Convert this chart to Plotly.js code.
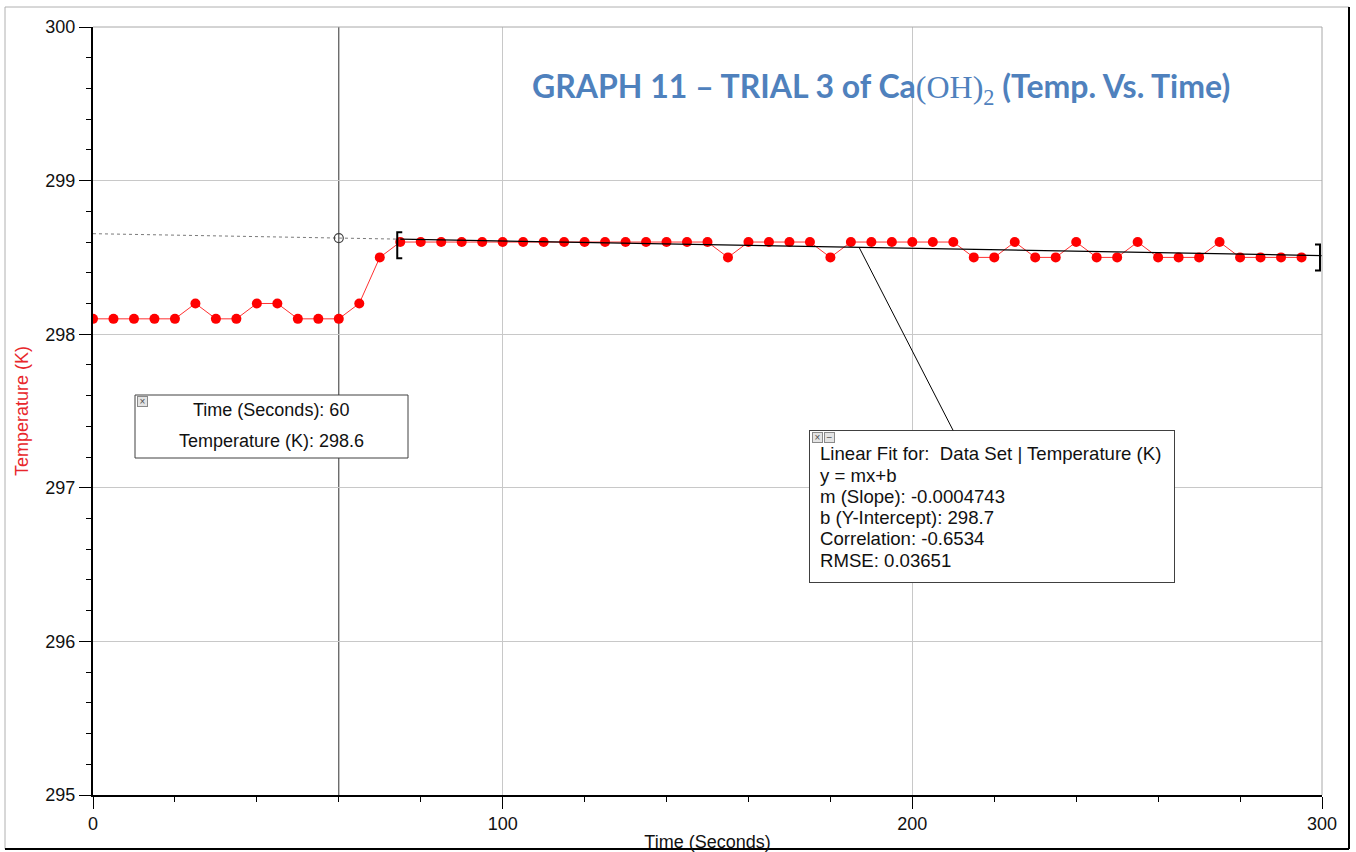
<!DOCTYPE html>
<html>
<head>
<meta charset="utf-8">
<script src="https://cdn.plot.ly/plotly-3.0.1.min.js"></script>
<style>
  html, body { margin: 0; padding: 0; background: #ffffff; }
  #chart { width: 1356px; height: 852px; }
</style>
</head>
<body>
<div id="chart"></div>
<script>
// Logger run: temperature of the Ca(OH)2 solution sampled every 5 s
const timeSec = [0, 5, 10, 15, 20, 25, 30, 35, 40, 45, 50, 55, 60, 65, 70,
  75, 80, 85, 90, 95, 100, 105, 110, 115, 120, 125, 130, 135, 140, 145,
  150, 155, 160, 165, 170, 175, 180, 185, 190, 195, 200, 205, 210, 215, 220,
  225, 230, 235, 240, 245, 250, 255, 260, 265, 270, 275, 280, 285, 290, 295];
const tempK = [298.1, 298.1, 298.1, 298.1, 298.1, 298.2, 298.1, 298.1, 298.2, 298.2, 298.1, 298.1, 298.1, 298.2, 298.5,
  298.6, 298.6, 298.6, 298.6, 298.6, 298.6, 298.6, 298.6, 298.6, 298.6, 298.6, 298.6, 298.6, 298.6, 298.6,
  298.6, 298.5, 298.6, 298.6, 298.6, 298.6, 298.5, 298.6, 298.6, 298.6, 298.6, 298.6, 298.6, 298.5, 298.5,
  298.6, 298.5, 298.5, 298.6, 298.5, 298.5, 298.6, 298.5, 298.5, 298.5, 298.6, 298.5, 298.5, 298.5, 298.5];

// Range selected for the linear fit, and the examine-cursor time
const fitRange = [75, 300];
const cursorTime = 60;

// Axis ticks
const xTicks = [0, 100, 200, 300];
const yTicks = [295, 296, 297, 298, 299, 300];

// Least-squares fit over the selected range
function linearFit(xs, ys, lo, hi) {
  const px = [], py = [];
  xs.forEach((x, i) => { if (x >= lo && x <= hi) { px.push(x); py.push(ys[i]); } });
  const n = px.length;
  const mx = px.reduce((a, b) => a + b, 0) / n;
  const my = py.reduce((a, b) => a + b, 0) / n;
  let sxx = 0, sxy = 0, syy = 0;
  for (let i = 0; i < n; i++) {
    sxx += (px[i] - mx) ** 2;
    sxy += (px[i] - mx) * (py[i] - my);
    syy += (py[i] - my) ** 2;
  }
  const m = sxy / sxx;
  const b = my - m * mx;
  const r = sxy / Math.sqrt(sxx * syy);
  const rmse = Math.sqrt((syy - sxy * sxy / sxx) / (n - 2));
  return { m, b, r, rmse };
}
const fit = linearFit(timeSec, tempK, fitRange[0], fitRange[1]);
const fitAt = x => fit.m * x + fit.b;

// Page geometry (pixels) and helpers to place overlays in paper units
const W = 1356, H = 852;
const M = { l: 93, r: 34, t: 27, b: 57 };
const PW = W - M.l - M.r, PH = H - M.t - M.b;
const fx = p => (p - M.l) / PW;
const fy = p => (H - M.b - p) / PH;

const BASE_FONT = 'Liberation Sans, Arial, sans-serif';

const traces = [
  {
    x: timeSec, y: tempK, type: 'scatter', mode: 'lines+markers',
    line: { color: '#ff3030', width: 1 },
    marker: { color: '#ff0000', size: 10 },
    hoverinfo: 'skip'
  },
  {
    // fit extended back to the start of the run
    x: [0, fitRange[0]], y: [fitAt(0), fitAt(fitRange[0])],
    type: 'scatter', mode: 'lines',
    line: { color: '#7a7a7a', width: 1, dash: 'dot' },
    hoverinfo: 'skip'
  },
  {
    x: fitRange, y: fitRange.map(fitAt),
    type: 'scatter', mode: 'lines',
    line: { color: '#000000', width: 1.3 },
    hoverinfo: 'skip'
  },
  {
    x: [cursorTime], y: [fitAt(cursorTime)],
    type: 'scatter', mode: 'markers',
    marker: { symbol: 'circle-open', size: 9, color: '#404040', line: { width: 1.2 } },
    hoverinfo: 'skip'
  }
];

const shapes = [
  // examine cursor
  { type: 'line', layer: 'between', xref: 'x', yref: 'paper', x0: cursorTime, x1: cursorTime, y0: 0, y1: 1,
    line: { color: '#303030', width: 1 } },
  // fit range brackets
  { type: 'path', xref: 'x', yref: 'y', xsizemode: 'pixel', ysizemode: 'pixel',
    xanchor: fitRange[0], yanchor: fitAt(fitRange[0]),
    path: 'M 2 7 L -3 7 L -3 -19 L 2 -19', line: { color: '#000000', width: 2 } },
  { type: 'path', xref: 'x', yref: 'y', xsizemode: 'pixel', ysizemode: 'pixel',
    xanchor: fitRange[1], yanchor: fitAt(fitRange[1]),
    path: 'M -7 11 L -2 11 L -2 -15 L -7 -15', line: { color: '#000000', width: 2 } },
  // plot frame, top and right
  { type: 'line', xref: 'paper', yref: 'paper', x0: 0, x1: 1, y0: 1, y1: 1, line: { color: '#a8a8a8', width: 1 } },
  { type: 'line', xref: 'paper', yref: 'paper', x0: 1, x1: 1, y0: 0, y1: 1, line: { color: '#a8a8a8', width: 1 } },
  // page frame
  { type: 'line', xref: 'paper', yref: 'paper', x0: fx(5), x1: fx(1349), y0: fy(7), y1: fy(7), line: { color: '#b0b0b0', width: 1 } },
  { type: 'line', xref: 'paper', yref: 'paper', x0: fx(5), x1: fx(5), y0: fy(7), y1: fy(849), line: { color: '#b0b0b0', width: 1 } },
  { type: 'line', xref: 'paper', yref: 'paper', x0: fx(1349), x1: fx(1349), y0: fy(7), y1: fy(849), line: { color: '#000000', width: 2 } },
  { type: 'line', xref: 'paper', yref: 'paper', x0: fx(5), x1: fx(1349), y0: fy(849), y1: fy(849), line: { color: '#000000', width: 2 } },
  // examine readout box
  { type: 'rect', xref: 'paper', yref: 'paper', x0: fx(135), x1: fx(408), y0: fy(395), y1: fy(458),
    fillcolor: '#ffffff', line: { color: '#404040', width: 1 } }
];

const closeBtn = (x, y, glyph) => ({
  xref: 'paper', yref: 'paper', x: fx(x), y: fy(y), xanchor: 'center', yanchor: 'middle',
  text: glyph, showarrow: false, width: 9, height: 9, borderpad: 0,
  bgcolor: '#e4e4e4', bordercolor: '#8a8a8a', borderwidth: 1,
  font: { family: BASE_FONT, size: 10, color: '#505050' }
});

const fitLines = [
  'Linear Fit for:\u00a0 Data Set | Temperature (K)',
  'y = mx+b',
  'm (Slope): ' + fit.m.toPrecision(4),
  'b (Y-Intercept): ' + fit.b.toFixed(1),
  'Correlation: ' + fit.r.toFixed(4),
  'RMSE: ' + fit.rmse.toPrecision(4)
];

// point on the fit line that the statistics box points at
const leaderX = 187;

const annotations = [
  {
    xref: 'paper', yref: 'paper', x: fx(881), y: fy(88), xanchor: 'center', yanchor: 'middle',
    showarrow: false,
    text: 'GRAPH 11 \u2013 TRIAL 3 of Ca<span style="font-family:\'Liberation Serif\',serif;font-weight:normal">(OH)<sub>2</sub></span> (Temp. Vs. Time)',
    font: { family: 'Lato, Open Sans, sans-serif', size: 32, color: '#4f81bd', weight: 'bold' }
  },
  // examine readout
  { xref: 'paper', yref: 'paper', x: fx(271), y: fy(410), xanchor: 'center', yanchor: 'middle', showarrow: false,
    text: 'Time (Seconds): ' + cursorTime, font: { family: BASE_FONT, size: 18, color: '#111111' } },
  { xref: 'paper', yref: 'paper', x: fx(271), y: fy(441), xanchor: 'center', yanchor: 'middle', showarrow: false,
    text: 'Temperature (K): ' + fitAt(cursorTime).toFixed(1), font: { family: BASE_FONT, size: 18, color: '#111111' } },
  closeBtn(142, 401, '\u00d7'),
  // linear fit statistics box with its leader line
  {
    xref: 'x', yref: 'y', x: leaderX, y: fitAt(leaderX),
    ax: 133, ay: 259, showarrow: true, arrowhead: 0, arrowwidth: 1, arrowcolor: '#000000', standoff: 0,
    text: ' ', width: 364, height: 151, borderpad: 0,
    bgcolor: '#ffffff', bordercolor: '#404040', borderwidth: 1
  },
  closeBtn(817, 437, '\u00d7'),
  closeBtn(829, 437, '\u2212')
];
fitLines.forEach((t, i) => {
  annotations.push({
    xref: 'paper', yref: 'paper', x: fx(818), y: fy(454 + i * 21.2), xanchor: 'left', yanchor: 'middle',
    showarrow: false, text: t, font: { family: BASE_FONT, size: 18.6, color: '#111111' }
  });
});

const layout = {
  width: W, height: H,
  margin: M,
  paper_bgcolor: '#ffffff', plot_bgcolor: '#ffffff',
  showlegend: false,
  font: { family: BASE_FONT, color: '#111111' },
  xaxis: {
    range: [0, 300], tickvals: xTicks, ticktext: xTicks.map(String),
    ticks: 'outside', ticklen: 12, tickwidth: 1, tickcolor: '#000000',
    minor: { dtick: 20, tick0: 0, ticks: 'outside', ticklen: 5, tickwidth: 1, tickcolor: '#000000', showgrid: false },
    showgrid: true, gridcolor: '#c8c8c8', gridwidth: 1, zeroline: false,
    showline: true, linecolor: '#000000', linewidth: 1.5,
    tickfont: { family: BASE_FONT, size: 18, color: '#111111' },
    title: { text: 'Time (Seconds)', font: { family: BASE_FONT, size: 18, color: '#111111' }, standoff: 6 },
    fixedrange: true
  },
  yaxis: {
    range: [295, 300], tickvals: yTicks, ticktext: yTicks.map(String),
    ticks: 'outside', ticklen: 12, tickwidth: 1, tickcolor: '#000000',
    minor: { dtick: 0.2, tick0: 295, ticks: 'outside', ticklen: 5, tickwidth: 1, tickcolor: '#000000', showgrid: false },
    showgrid: true, gridcolor: '#c8c8c8', gridwidth: 1, zeroline: false,
    showline: true, linecolor: '#000000', linewidth: 2,
    tickfont: { family: BASE_FONT, size: 18, color: '#111111' },
    title: { text: 'Temperature (K)', font: { family: BASE_FONT, size: 18, color: '#e8262b' }, standoff: 12 },
    fixedrange: true
  },
  shapes: shapes,
  annotations: annotations
};

Plotly.newPlot('chart', traces, layout, { displayModeBar: false, staticPlot: true });
</script>
</body>
</html>
